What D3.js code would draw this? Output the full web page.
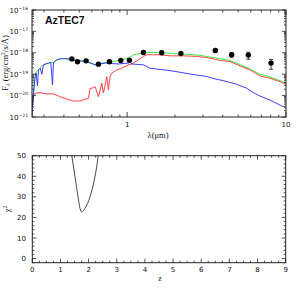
<!DOCTYPE html>
<html>
<head>
<meta charset="utf-8">
<script src="https://cdn.jsdelivr.net/npm/d3@7"></script>
<style>
body { margin: 0; background: #fff; }
text { fill: #111; }
</style>
</head>
<body>
<script>

// SED model components: wavelength (micron) and flux (erg/cm2/s/A)
var blueWave = [0.2516, 0.2552, 0.2602, 0.2639, 0.2678, 0.2728, 0.2768, 0.2837, 0.2907, 0.2976, 0.3199, 0.3312, 0.3390, 0.3440, 0.3613, 0.3790, 0.3975, 0.4381, 0.4827, 0.5578, 0.6291, 0.7271, 0.8816, 1.019, 1.045, 1.070, 1.266, 1.395, 1.864, 2.490, 3.171, 3.577, 4.034, 4.897, 5.660, 6.229, 6.864, 7.932, 9.168, 10];
var blueFlux = [1.0e-21, 6.2e-21, 2.6e-20, 7.8e-20, 1.12e-19, 2.9e-20, 1.58e-19, 1.9e-19, 1.0e-19, 2.75e-19, 3.3e-19, 3.5e-19, 3.2e-20, 3.5e-19, 4.7e-19, 5.2e-19, 5.4e-19, 5.0e-19, 4.4e-19, 3.9e-19, 2.75e-19, 3.3e-19, 3.0e-19, 3.3e-19, 3.9e-19, 3.0e-19, 2.75e-19, 1.9e-19, 1.48e-19, 1.02e-19, 7.8e-20, 6.0e-20, 5.0e-20, 3.4e-20, 2.2e-20, 1.38e-20, 9.5e-21, 6.2e-21, 3.6e-21, 2.7e-21];

var redWave = [0.2508, 0.2552, 0.2639, 0.2837, 0.3126, 0.3440, 0.3790, 0.4175, 0.4595, 0.5064, 0.5443, 0.5710, 0.5853, 0.5998, 0.6291, 0.6600, 0.6931, 0.7095, 0.7453, 0.7627, 0.7816, 0.8011, 0.8615, 0.9262, 1.019, 1.070, 1.178, 1.266, 1.330, 1.464, 1.613, 1.864, 2.261, 2.744, 3.171, 3.577, 3.845, 4.444, 5.137, 5.937, 6.864, 7.932, 9.168, 10];
var redFlux = [1.0e-21, 8.9e-21, 1.29e-20, 1.38e-20, 1.2e-20, 1.2e-20, 8.9e-21, 6.8e-21, 5.6e-21, 5.6e-21, 6.8e-21, 7.4e-21, 2.2e-20, 2.2e-20, 2.6e-20, 8.9e-21, 3.8e-20, 1.32e-20, 7.8e-20, 1.82e-20, 7.8e-20, 1.12e-19, 1.58e-19, 1.9e-19, 2.75e-19, 3.0e-19, 4.7e-19, 6.8e-19, 8.1e-19, 8.1e-19, 8.1e-19, 7.2e-19, 7.2e-19, 6.8e-19, 6.0e-19, 5.0e-19, 4.4e-19, 3.9e-19, 2.45e-19, 1.58e-19, 8.3e-20, 6.5e-20, 4.5e-20, 3.4e-20];

var greenWave = [0.2516, 0.2552, 0.2602, 0.2639, 0.2678, 0.2768, 0.2837, 0.2976, 0.3199, 0.3312, 0.3440, 0.3613, 0.3790, 0.3975, 0.4381, 0.4827, 0.5443, 0.6291, 0.7271, 0.8816, 1.019, 1.095, 1.178, 1.266, 1.395, 1.613, 1.955, 2.490, 2.878, 3.577, 4.444, 5.137, 5.937, 6.864, 7.932, 10];
var greenFlux = [1.0e-21, 7.5e-21, 3.2e-20, 9.0e-20, 1.25e-19, 1.65e-19, 1.95e-19, 2.8e-19, 3.3e-19, 3.5e-19, 3.6e-19, 4.7e-19, 5.2e-19, 5.4e-19, 5.0e-19, 4.4e-19, 3.9e-19, 2.75e-19, 3.5e-19, 4.4e-19, 5.6e-19, 8.1e-19, 8.9e-19, 9.8e-19, 1.05e-18, 1.02e-18, 9.3e-19, 8.3e-19, 7.6e-19, 5.8e-19, 4.4e-19, 2.8e-19, 1.75e-19, 1.0e-19, 7.4e-20, 3.9e-20];

// photometry
var photWave = [0.449, 0.487, 0.552, 0.660, 0.774, 0.913, 1.034, 1.266, 1.65, 2.18, 3.59, 4.55, 5.79, 8.05];
var photFlux = [5.2e-19, 3.8e-19, 4.2e-19, 2.95e-19, 3.8e-19, 4.4e-19, 4.5e-19, 1.03e-18, 1.0e-18, 9.3e-19, 1.28e-18, 8.1e-19, 7.8e-19, 3.3e-19];
var photErr = [0, 0, 0, 0, 0, 0, 0, 0, 0, 0, 2.0e-19, 1.8e-19, 2.8e-19, 1.6e-19];

// photo-z chi2 curve
var zVals = [1.36, 1.40, 1.516, 1.634, 1.694, 1.754, 1.871, 2.049, 2.202, 2.287, 2.344, 2.38];
var chiVals = [54, 50.3, 39.8, 29.2, 24.4, 22.7, 24.4, 30.0, 38.2, 44.6, 50.3, 54];

var zTicks = [0, 1, 2, 3, 4, 5, 6, 7, 8, 9];
var chiTicks = [0, 10, 20, 30, 40, 50];
var fluxExp = [-21, -20, -19, -18, -17, -16];

var W = 303, H = 296;
var svg = d3.select('body').append('svg')
    .attr('width', W)
    .attr('height', H)
    .style('font-family', 'DejaVu Sans, sans-serif');

var frameCol = '#222';

// ---------- top panel ----------
var tL = 32, tR = 286, tT = 10, tB = 117;
var x1 = d3.scaleLog().domain([0.252, 10]).range([tL, tR]);
var y1 = d3.scaleLog().domain([1e-21, 1e-16]).range([tB, tT]);

var topG = svg.append('g');

topG.append('clipPath').attr('id', 'clipTop')
    .append('rect').attr('x', tL).attr('y', tT).attr('width', tR - tL).attr('height', tB - tT);

var line1 = d3.line()
    .x(function(d){ return x1(d[0]); })
    .y(function(d){ return y1(d[1]); });

var curves = topG.append('g').attr('clip-path', 'url(#clipTop)');

function drawCurve(wave, flux, col){
    curves.append('path')
        .datum(d3.zip(wave, flux))
        .attr('d', line1)
        .attr('fill', 'none')
        .attr('stroke', col)
        .attr('stroke-width', 0.9);
}
drawCurve(greenWave, greenFlux, '#22ee22');
drawCurve(redWave, redFlux, '#ff3030');
drawCurve(blueWave, blueFlux, '#2a2aff');

// ticks (inward, all four sides)
var xMinor = [];
[0.1, 1].forEach(function(dec){
    for (var k = 2; k <= 9; k++) {
        var v = k * dec;
        if (v >= 0.252 && v < 10) xMinor.push(v);
    }
});
var xMajor = [1, 10];
var yMinor = [];
fluxExp.forEach(function(e){
    for (var k = 2; k <= 9; k++) {
        var v = k * Math.pow(10, e);
        if (v < 1e-16) yMinor.push(v);
    }
});

var ticks = topG.append('g').attr('stroke', frameCol).attr('stroke-width', 0.8);
function xt(g, sc, vals, len, yb, yt){
    vals.forEach(function(v){
        g.append('line').attr('x1', sc(v)).attr('x2', sc(v)).attr('y1', yb).attr('y2', yb - len);
        g.append('line').attr('x1', sc(v)).attr('x2', sc(v)).attr('y1', yt).attr('y2', yt + len);
    });
}
function yt(g, sc, vals, len, xl, xr){
    vals.forEach(function(v){
        g.append('line').attr('y1', sc(v)).attr('y2', sc(v)).attr('x1', xl).attr('x2', xl + len);
        g.append('line').attr('y1', sc(v)).attr('y2', sc(v)).attr('x1', xr).attr('x2', xr - len);
    });
}
xt(ticks, x1, xMinor, 2.5, tB, tT);
xt(ticks, x1, xMajor, 5, tB, tT);
yt(ticks, y1, yMinor, 2, tL, tR);
yt(ticks, y1, fluxExp.map(function(e){ return Math.pow(10, e); }), 4, tL, tR);

topG.append('rect')
    .attr('x', tL).attr('y', tT).attr('width', tR - tL).attr('height', tB - tT)
    .attr('fill', 'none').attr('stroke', frameCol).attr('stroke-width', 1);

// photometry points
var pts = topG.append('g');
photWave.forEach(function(w, i){
    var f = photFlux[i], e = photErr[i];
    if (e > 0) {
        pts.append('line')
            .attr('x1', x1(w)).attr('x2', x1(w))
            .attr('y1', y1(f - e)).attr('y2', y1(f + e))
            .attr('stroke', '#111').attr('stroke-width', 0.8);
        [f - e, f + e].forEach(function(v){
            pts.append('line')
                .attr('x1', x1(w) - 2).attr('x2', x1(w) + 2)
                .attr('y1', y1(v)).attr('y2', y1(v))
                .attr('stroke', '#111').attr('stroke-width', 0.8);
        });
    }
    pts.append('circle')
        .attr('cx', x1(w)).attr('cy', y1(f)).attr('r', 2.7)
        .attr('fill', '#000');
});

// tick labels
topG.selectAll('text.ylab')
    .data(fluxExp)
    .enter()
    .append('text')
    .attr('class', 'ylab')
    .attr('x', 28)
    .attr('y', function(d){ return y1(Math.pow(10, d)) + 2.5; })
    .attr('text-anchor', 'end')
    .attr('font-size', 7)
    .each(function(d){
        var t = d3.select(this);
        t.append('tspan').text('10');
        t.append('tspan').attr('dy', -3).attr('font-size', 4.5).text('\u2212' + Math.abs(d));
    });

topG.selectAll('text.xlab')
    .data(xMajor)
    .enter()
    .append('text')
    .attr('class', 'xlab')
    .attr('x', function(d){ return x1(d); })
    .attr('y', 127)
    .attr('text-anchor', 'middle')
    .attr('font-size', 7)
    .text(function(d){ return d; });

topG.append('text')
    .attr('x', 158).attr('y', 138)
    .attr('text-anchor', 'middle')
    .attr('font-family', 'Liberation Serif, serif')
    .attr('font-size', 8.5)
    .text('\u03bb(\u03bcm)');

var yl = topG.append('text')
    .attr('transform', 'translate(8,63) rotate(-90)')
    .attr('text-anchor', 'middle')
    .attr('font-family', 'Liberation Serif, serif')
    .attr('font-size', 8.5);
yl.append('tspan').text('F');
yl.append('tspan').attr('dy', 2).attr('font-size', 5.5).text('\u03bb');
yl.append('tspan').attr('dy', -2).text(' (erg/cm');
yl.append('tspan').attr('dy', -3).attr('font-size', 5.5).text('2');
yl.append('tspan').attr('dy', 3).text('/s/\u00c5)');

topG.append('text')
    .attr('x', 45).attr('y', 24)
    .attr('font-family', 'Liberation Sans, Arial, sans-serif')
    .attr('font-weight', 'bold')
    .attr('font-size', 10.5)
    .text('AzTEC7');

// ---------- bottom panel ----------
var bL = 32.3, bR = 285.7, bT = 155.7, bB = 262.7;
var x2 = d3.scaleLinear().domain([0, 9]).range([bL, bR]);
var y2 = d3.scaleLinear().domain([-2, 50]).range([bB, bT]);

var bot = svg.append('g');
bot.append('clipPath').attr('id', 'clipBot')
    .append('rect').attr('x', bL).attr('y', bT).attr('width', bR - bL).attr('height', bB - bT);

bot.append('path')
    .datum(d3.zip(zVals, chiVals))
    .attr('clip-path', 'url(#clipBot)')
    .attr('d', d3.line()
        .curve(d3.curveMonotoneX)
        .x(function(d){ return x2(d[0]); })
        .y(function(d){ return y2(d[1]); }))
    .attr('fill', 'none')
    .attr('stroke', '#333')
    .attr('stroke-width', 0.9);

var bticks = bot.append('g').attr('stroke', frameCol).attr('stroke-width', 0.8);
var zMinor = d3.range(0, 9.01, 0.25).filter(function(v){ return v % 1 !== 0; });
var chiMinor = d3.range(-2, 50.01, 2).filter(function(v){ return v % 10 !== 0; });
xt(bticks, x2, zMinor, 2, bB, bT);
xt(bticks, x2, zTicks, 4, bB, bT);
yt(bticks, y2, chiMinor, 2, bL, bR);
yt(bticks, y2, chiTicks, 4, bL, bR);

bot.append('rect')
    .attr('x', bL).attr('y', bT).attr('width', bR - bL).attr('height', bB - bT)
    .attr('fill', 'none').attr('stroke', frameCol).attr('stroke-width', 1);

bot.selectAll('text.zlab')
    .data(zTicks)
    .enter()
    .append('text')
    .attr('x', function(d){ return x2(d); })
    .attr('y', 272)
    .attr('text-anchor', 'middle')
    .attr('font-size', 7)
    .text(function(d){ return d; });

bot.selectAll('text.clab')
    .data(chiTicks)
    .enter()
    .append('text')
    .attr('x', 26)
    .attr('y', function(d){ return y2(d) + 2.5; })
    .attr('text-anchor', 'end')
    .attr('font-size', 7)
    .text(function(d){ return d; });

bot.append('text')
    .attr('x', 160).attr('y', 281)
    .attr('text-anchor', 'middle')
    .attr('font-family', 'Liberation Serif, serif')
    .attr('font-size', 8)
    .text('z');

var cl = bot.append('text')
    .attr('transform', 'translate(10,209) rotate(-90)')
    .attr('text-anchor', 'middle')
    .attr('font-family', 'Liberation Serif, serif')
    .attr('font-size', 8);
cl.append('tspan').text('\u03c7');
cl.append('tspan').attr('dy', -3).attr('font-size', 5.5).text('2');

</script>
</body>
</html>
